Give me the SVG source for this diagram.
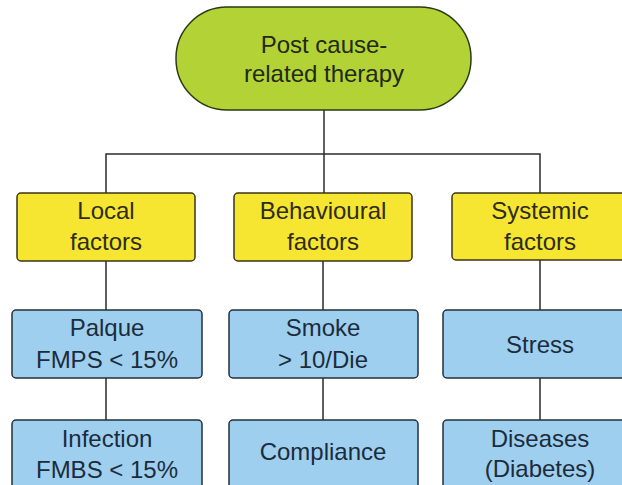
<svg xmlns="http://www.w3.org/2000/svg" width="622" height="485" viewBox="0 0 622 485">
<style>
.t{font-family:"Liberation Sans",Arial,sans-serif;font-size:24px;text-anchor:middle}
.g{fill:#b3d236;stroke:#2a3a12;stroke-width:1.5}
.y{fill:#f6e631;stroke:#3a3618;stroke-width:1.5}
.b{fill:#9ecfee;stroke:#22313f;stroke-width:1.5}
.tg{fill:#1f2a12}
.ty{fill:#2e2c18}
.tb{fill:#1c2c3c}
.c{fill:none;stroke:#2b2b2b;stroke-width:1.5}
</style>
<rect width="622" height="485" fill="#ffffff"/>
<g id="connectors">
<path class="c" d="M324 110V193"/>
<path class="c" d="M106 193V154H540V193"/>
<path class="c" d="M106 261V310M106 378V420"/>
<path class="c" d="M323 261V310M323 378V420"/>
<path class="c" d="M540 260V310M540 378V420"/>
</g>
<g id="root">
<rect class="g" x="176" y="7" width="295" height="103" rx="51" ry="51"/>
<text class="t tg" x="324" y="53">Post cause-</text>
<text class="t tg" x="324" y="82">related therapy</text>
</g>
<g id="local">
<rect class="y" x="17" y="193" width="178" height="68" rx="4"/>
<text class="t ty" x="106" y="219">Local</text>
<text class="t ty" x="106" y="250">factors</text>
</g>
<g id="behavioural">
<rect class="y" x="234" y="193" width="178" height="68" rx="4"/>
<text class="t ty" x="323" y="219">Behavioural</text>
<text class="t ty" x="323" y="250">factors</text>
</g>
<g id="systemic">
<rect class="y" x="452" y="193" width="178" height="67" rx="4"/>
<text class="t ty" x="540" y="219">Systemic</text>
<text class="t ty" x="540" y="250">factors</text>
</g>
<g id="palque">
<rect class="b" x="12" y="310" width="190" height="68" rx="4"/>
<text class="t tb" x="107" y="336">Palque</text>
<text class="t tb" x="107" y="368">FMPS &lt; 15%</text>
</g>
<g id="smoke">
<rect class="b" x="229" y="310" width="189" height="68" rx="4"/>
<text class="t tb" x="323" y="336">Smoke</text>
<text class="t tb" x="323" y="368">&gt; 10/Die</text>
</g>
<g id="stress">
<rect class="b" x="443" y="310" width="192" height="68" rx="4"/>
<text class="t tb" x="540" y="353">Stress</text>
</g>
<g id="infection">
<rect class="b" x="12" y="420" width="190" height="80" rx="4"/>
<text class="t tb" x="107" y="447">Infection</text>
<text class="t tb" x="107" y="478">FMBS &lt; 15%</text>
</g>
<g id="compliance">
<rect class="b" x="229" y="420" width="189" height="80" rx="4"/>
<text class="t tb" x="323" y="460">Compliance</text>
</g>
<g id="diseases">
<rect class="b" x="443" y="420" width="192" height="80" rx="4"/>
<text class="t tb" x="540" y="447">Diseases</text>
<text class="t tb" x="540" y="477">(Diabetes)</text>
</g>
</svg>
